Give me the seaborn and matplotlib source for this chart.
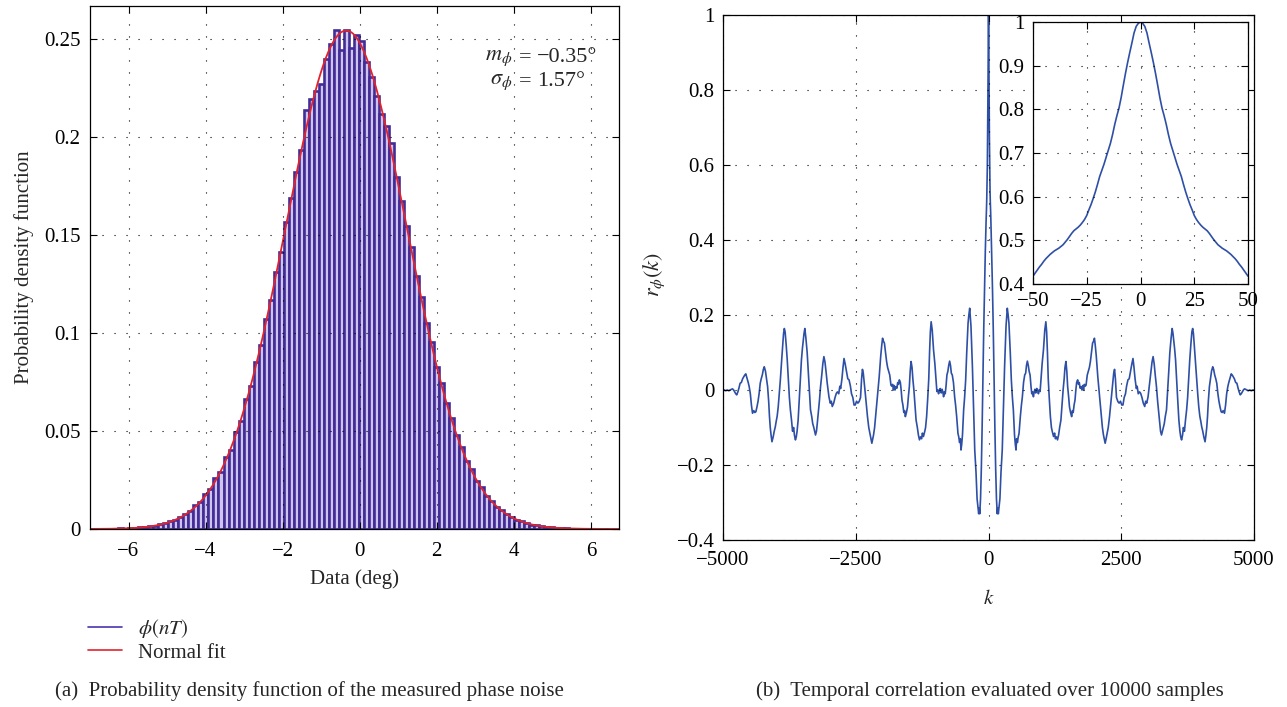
import numpy as np
import pandas as pd
import matplotlib
matplotlib.use("Agg")
import matplotlib.pyplot as plt
from matplotlib.lines import Line2D
from matplotlib.ticker import FuncFormatter, FixedLocator
import seaborn as sns

# ---------------- data: panel (a) histogram of phase noise ----------------
bin_width = 0.13
first_center = -6.59
pdf_heights = [
    0.0002, 0.0001, 0.0002, 0.0003, 0.0002, 0.0005, 0.0006, 0.0009, 0.0010, 0.0016,
    0.0017, 0.0024, 0.0029, 0.0040, 0.0047, 0.0063, 0.0079, 0.0090, 0.0121, 0.0139,
    0.0178, 0.0203, 0.0262, 0.0290, 0.0368, 0.0405, 0.0492, 0.0553, 0.0662, 0.0730,
    0.0851, 0.0936, 0.1070, 0.1168, 0.1312, 0.1410, 0.1566, 0.1689, 0.1820, 0.1930,
    0.2138, 0.2190, 0.2232, 0.2268, 0.2395, 0.2470, 0.2542, 0.2444, 0.2545, 0.2453,
    0.2520, 0.2490, 0.2380, 0.2305, 0.2207, 0.2113, 0.2054, 0.1970, 0.1795, 0.1672,
    0.1545, 0.1435, 0.1290, 0.1182, 0.1050, 0.0951, 0.0828, 0.0745, 0.0640, 0.0568,
    0.0478, 0.0420, 0.0346, 0.0305, 0.0246, 0.0212, 0.0170, 0.0145, 0.0113, 0.0097,
    0.0074, 0.0062, 0.0046, 0.0039, 0.0031, 0.0022, 0.0019, 0.0013, 0.0011, 0.0008,
    0.0006, 0.0005, 0.0003, 0.0002, 0.0002, 0.0001, 0.0001, 0.0001, 0.0001, 0.0000,
    0.0001,
]
m_phi = -0.35       # fitted mean (deg)
sigma_phi = 1.57    # fitted std (deg)
xticks_a = [-6, -4, -2, 0, 2, 4, 6]
yticks_a = [0, 0.05, 0.1, 0.15, 0.2, 0.25]

# ---------------- data: panel (b) temporal correlation (k >= 0, symmetric) ----
lag_fine = list(range(0, 51))
corr_fine = [
    1.000, 0.997, 0.990, 0.975, 0.952, 0.930, 0.907, 0.882, 0.855, 0.827,
    0.803, 0.785, 0.765, 0.742, 0.722, 0.706, 0.690, 0.674, 0.660, 0.646,
    0.628, 0.611, 0.596, 0.582, 0.570, 0.557, 0.548, 0.541, 0.535, 0.530,
    0.526, 0.522, 0.516, 0.509, 0.502, 0.496, 0.490, 0.486, 0.482, 0.479,
    0.476, 0.472, 0.468, 0.463, 0.458, 0.452, 0.445, 0.439, 0.432, 0.425,
    0.418,
]
lag_coarse = [
    60, 75, 90, 105, 120, 135, 150, 165, 175, 185, 200, 215, 235, 259, 280, 303, 330, 354,
    370, 385, 410, 430, 450, 468, 490, 505, 518, 530, 545, 560, 575, 600, 620, 638, 660,
    682, 700, 715, 732, 750, 765, 783, 800, 815, 830, 846, 860, 875, 890, 909, 925, 940,
    955, 972, 990, 1010, 1035, 1060, 1080, 1095, 1110, 1125, 1143, 1165, 1185, 1200, 1225,
    1245, 1260, 1280, 1300, 1320, 1340, 1364, 1385, 1405, 1425, 1440, 1458, 1475, 1490,
    1509, 1525, 1545, 1566, 1580, 1595, 1612, 1629, 1645, 1660, 1679, 1695, 1710, 1725,
    1742, 1760, 1775, 1790, 1805, 1820, 1837, 1860, 1880, 1900, 1919, 1940, 1960, 1978,
    1995, 2010, 2030, 2058, 2080, 2100, 2121, 2145, 2165, 2180, 2197, 2215, 2235, 2255,
    2279, 2300, 2320, 2340, 2358, 2374, 2390, 2410, 2437, 2460, 2485, 2510, 2532, 2555,
    2580, 2600, 2626, 2650, 2675, 2700, 2721, 2740, 2760, 2784, 2800, 2820, 2845, 2866,
    2890, 2915, 2942, 2960, 2980, 3005, 3020, 3037, 3060, 3080, 3100, 3120, 3140, 3163,
    3185, 3205, 3225, 3240, 3258, 3275, 3290, 3310, 3330, 3352, 3375, 3395, 3415, 3440,
    3459, 3475, 3490, 3505, 3523, 3545, 3565, 3585, 3605, 3620, 3636, 3655, 3670, 3690,
    3710, 3731, 3750, 3770, 3790, 3810, 3830, 3845, 3860, 3875, 3890, 3905, 3920, 3940,
    3960, 3980, 4000, 4015, 4035, 4055, 4078, 4095, 4110, 4125, 4140, 4160, 4180, 4200,
    4223, 4240, 4260, 4280, 4299, 4320, 4340, 4360, 4381, 4400, 4420, 4444, 4465, 4485,
    4507, 4525, 4545, 4571, 4590, 4610, 4630, 4655, 4678, 4700, 4720, 4741, 4760, 4780,
    4800, 4820, 4840, 4867, 4890, 4920, 4950, 4975, 5000,
]
corr_coarse = [
    0.37, 0.27, 0.16, 0.03, -0.10, -0.21, -0.29, -0.33, -0.315, -0.33, -0.31, -0.29, -0.22,
    -0.16, -0.05, 0.062, 0.17, 0.218,
    0.20, 0.178, 0.10, 0.027, -0.02, -0.053, -0.12, -0.145, -0.16, -0.13, -0.14, -0.125,
    -0.116, -0.07, -0.04, -0.018, 0.02,
    0.04, 0.045, 0.065, 0.077, 0.065, 0.05, 0.04, 0.01, -0.01, -0.005, -0.018, -0.005,
    0.002, -0.008, 0.004, 0.0, -0.01,
    0.0, -0.004, 0.03, 0.07, 0.107, 0.16, 0.182, 0.155, 0.10, 0.03, -0.018, -0.07, -0.10,
    -0.11, -0.124,
    -0.115, -0.13, -0.125, -0.133, -0.12, -0.10, -0.08, -0.04, 0.0, 0.03, 0.06, 0.076,
    0.05, 0.01,
    -0.018, -0.045, -0.06, -0.071, -0.055, -0.06, -0.04, -0.027, 0.0, 0.02, 0.027, 0.015,
    0.02, 0.005,
    0.009, 0.0, 0.012, 0.0, 0.015, 0.01, 0.013, 0.04, 0.05, 0.06, 0.076, 0.10, 0.125, 0.13,
    0.138, 0.12, 0.09, 0.036, 0.0, -0.03, -0.062, -0.10, -0.12, -0.13, -0.142, -0.13,
    -0.115, -0.10,
    -0.071, -0.04, -0.01, 0.02, 0.045, 0.055, 0.03, -0.02, -0.031, -0.035, -0.03, -0.04,
    -0.04, -0.02,
    -0.01, 0.01, 0.027, 0.03, 0.05, 0.07, 0.084, 0.06, 0.03, 0.004, 0.01, -0.01, -0.005,
    -0.009,
    -0.02, -0.035, -0.044, -0.03, -0.035, -0.018, 0.0, 0.018, 0.05, 0.075, 0.089, 0.07,
    0.04, 0.009,
    -0.03, -0.06, -0.09, -0.11, -0.12, -0.11, -0.10, -0.09, -0.07, -0.053, 0.0, 0.05,
    0.10, 0.14,
    0.164, 0.15, 0.13, 0.11, 0.08, 0.02, -0.03, -0.08, -0.11, -0.125, -0.133, -0.12,
    -0.10, -0.11,
    -0.08, -0.053, -0.02, 0.03, 0.08, 0.12, 0.155, 0.164, 0.15, 0.12, 0.09, 0.06, 0.027,
    -0.01,
    -0.045, -0.07, -0.085, -0.098, -0.11, -0.125, -0.138, -0.12, -0.10, -0.07, -0.03,
    0.009, 0.03, 0.05,
    0.062, 0.055, 0.04, 0.03, 0.018, -0.01, -0.03, -0.045, -0.058, -0.06, -0.055, -0.062,
    -0.04, -0.01,
    0.009, 0.02, 0.03, 0.043, 0.04, 0.035, 0.03, 0.02, 0.018, 0.005, -0.005, -0.013,
    -0.01, -0.005,
    0.0, 0.003, 0.002, 0.0, -0.002, 0.0, -0.002, 0.0, 0.0,
]
xticks_b = [-5000, -2500, 0, 2500, 5000]
yticks_b = [-0.4, -0.2, 0, 0.2, 0.4, 0.6, 0.8, 1]
xticks_in = [-50, -25, 0, 25, 50]
yticks_in = [0.4, 0.5, 0.6, 0.7, 0.8, 0.9, 1]

# ---------------- style ----------------
sns.set_theme(style="white")
plt.rcParams["font.family"] = ["Liberation Serif", "DejaVu Serif"]
plt.rcParams["mathtext.fontset"] = "stix"
FS = 15
plt.rcParams["font.size"] = FS

HIST_EDGE = "#432c98"
HIST_FACE = "#cdc4ec"
FIT_RED = "#e3232c"
CORR_BLUE = "#2e4fa6"
GRID_LS = (0, (1, 9.8))

W, H = 1287, 707
fig = plt.figure(figsize=(W / 100, H / 100), dpi=100)


def fr(x0, y0, x1, y1):
    return [x0 / W, 1 - y1 / H, (x1 - x0) / W, (y1 - y0) / H]


def fmt(v, pos=None):
    return f"{v:g}".replace("-", "\u2212")


def style_axes(ax, xt, yt, xpad=7, ypad=7):
    ax.xaxis.set_major_locator(FixedLocator(xt))
    ax.yaxis.set_major_locator(FixedLocator(yt))
    ax.xaxis.set_major_formatter(FuncFormatter(fmt))
    ax.yaxis.set_major_formatter(FuncFormatter(fmt))
    ax.tick_params(direction="in", length=5, width=0.8, color="black",
                   top=True, right=True, bottom=True, left=True,
                   labelsize=FS, labelcolor="black")
    ax.tick_params(axis="x", pad=xpad)
    ax.tick_params(axis="y", pad=ypad)
    ax.grid(True, linestyle=GRID_LS, color="black", linewidth=0.8)
    for s in ax.spines.values():
        s.set_visible(True)
        s.set_color("black")
        s.set_linewidth(0.9)
    ax.set_axisbelow(False)


# ---------------- panel (a) ----------------
axa = fig.add_axes(fr(90, 6, 619, 529))
n_bins = len(pdf_heights)
centers = first_center + bin_width * np.arange(n_bins)
edges = list(np.append(centers - bin_width / 2, centers[-1] + bin_width / 2))
hist_df = pd.DataFrame({"deg": centers, "density": pdf_heights})
sns.histplot(data=hist_df, x="deg", weights="density", bins=edges, stat="count",
             element="bars", fill=True, ax=axa,
             facecolor=HIST_FACE, edgecolor=HIST_EDGE, linewidth=1.9, alpha=1)
xfit = np.linspace(-7, 6.73, 600)
yfit = np.exp(-0.5 * ((xfit - m_phi) / sigma_phi) ** 2) / (sigma_phi * np.sqrt(2 * np.pi))
sns.lineplot(x=xfit, y=yfit, ax=axa, color=FIT_RED, linewidth=1.3,
             sort=False, estimator=None)
axa.set_xlim(-7, 6.73)
axa.set_ylim(0, 0.2666)
style_axes(axa, xticks_a, yticks_a, xpad=9, ypad=7)
axa.set_xlabel("Data (deg)", fontsize=FS)
axa.set_ylabel("Probability density function", fontsize=FS)
axa.xaxis.set_label_coords(0.5, -0.077)
axa.yaxis.set_label_coords(-0.106, 0.5)

# annotation, aligned on the "=" signs
for y, lhs, rhs in [(58, r"$m_{\phi}$", "\u22120.35\u00b0"),
                    (82, r"$\sigma_{\phi}$", "1.57\u00b0")]:
    fig.text(512 / W, 1 - y / H, lhs, ha="right", va="center", fontsize=FS + 1)
    fig.text(525 / W, 1 - y / H, "=", ha="center", va="center", fontsize=FS + 1)
    fig.text(537 / W, 1 - y / H, rhs, ha="left", va="center", fontsize=FS + 1)

# legend under panel (a)
handles = [Line2D([], [], color="#4b35b0", lw=1.2),
           Line2D([], [], color=FIT_RED, lw=1.2)]
fig.legend(handles, [r"$\phi(nT)$", "Normal fit"], loc="upper left",
           bbox_to_anchor=(88 / W, 1 - 617 / H), frameon=False, fontsize=FS,
           handlelength=1.65, handletextpad=0.75, labelspacing=0.15,
           borderpad=0, borderaxespad=0)

fig.text(309 / W, 1 - 691 / H,
         "(a)  Probability density function of the measured phase noise",
         ha="center", va="center", fontsize=FS)

# ---------------- panel (b) ----------------
lag_pos = np.array(lag_fine + lag_coarse, dtype=float)
corr_pos = np.array(corr_fine + corr_coarse, dtype=float)
lags = np.concatenate([-lag_pos[::-1][:-1], lag_pos])
corr = np.concatenate([corr_pos[::-1][:-1], corr_pos])

axb = fig.add_axes(fr(723, 15, 1254, 540))
sns.lineplot(x=lags, y=corr, ax=axb, color=CORR_BLUE, linewidth=1.2,
             sort=False, estimator=None)
axb.set_xlim(-5000, 5000)
axb.set_ylim(-0.4, 1)
style_axes(axb, xticks_b, yticks_b, xpad=8, ypad=6)
axb.set_xlabel(r"$k$", fontsize=FS)
axb.set_ylabel(r"$r_{\phi}(k)$", fontsize=FS + 1)
axb.xaxis.set_label_coords(0.5, -0.095)
axb.yaxis.set_label_coords(-0.105, 0.505)

fig.text(990 / W, 1 - 691 / H,
         "(b)  Temporal correlation evaluated over 10000 samples",
         ha="center", va="center", fontsize=FS)

# inset
axi = fig.add_axes(fr(1033, 22, 1248, 284))
mask = np.abs(lags) <= 50
sns.lineplot(x=lags[mask], y=corr[mask], ax=axi, color=CORR_BLUE, linewidth=1.2,
             sort=False, estimator=None)
axi.set_xlim(-50, 50)
axi.set_ylim(0.4, 1)
style_axes(axi, xticks_in, yticks_in, xpad=6, ypad=6)
axi.set_facecolor("white")
axi.set_xlabel("")
axi.set_ylabel("")

fig.savefig("out.png", dpi=100)
